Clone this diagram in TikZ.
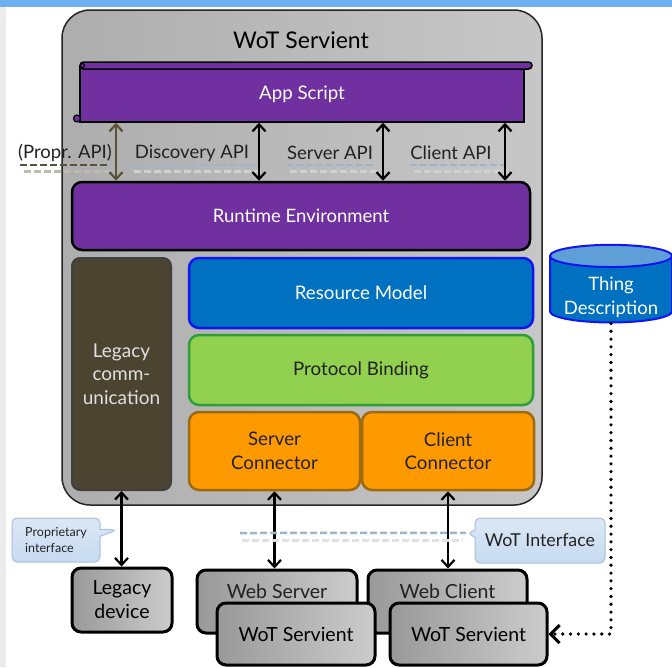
\documentclass[tikz,border=0pt]{standalone}
\usepackage{fontspec}
\setmainfont{Lato}
\usetikzlibrary{arrows.meta,shapes.geometric,shapes.callouts,calc}
\definecolor{purp}{HTML}{7030A0}
\definecolor{topblue}{HTML}{6EB0F0}
\definecolor{leftgray}{HTML}{EBEBEB}
\definecolor{olivebox}{HTML}{4B4431}
\definecolor{olivearrow}{HTML}{5A5238}
\definecolor{resblue}{HTML}{0070C0}
\definecolor{resborder}{HTML}{1414F0}
\definecolor{protgreen}{HTML}{92D050}
\definecolor{protborder}{HTML}{2E9E3A}
\definecolor{conorange}{HTML}{FF9900}
\definecolor{conborder}{HTML}{9C6A10}
\definecolor{calloutfill}{HTML}{C6DAF0}
\definecolor{calloutlight}{HTML}{DCE8F6}
\definecolor{calloutborder}{HTML}{A6C0DC}
\definecolor{dashblue}{HTML}{9DB4CC}
\definecolor{tdtop}{HTML}{5E9FD8}
\definecolor{textdark}{HTML}{222222}
\tikzset{
  fs/.style={font=\fontsize{#1pt}{1.25\dimexpr #1pt\relax}\selectfont},
  outerbox/.style={draw=black!85, line width=1.5pt, rounded corners=28pt,
    left color=black!32, right color=black!22},
  layer/.style={rounded corners=10pt, line width=2.5pt, align=center},
  graybox/.style={draw=black, line width=3pt, rounded corners=9pt,
    left color=black!40, right color=black!20, text=black, fs=19.5},
  arr/.style={line width=2.2pt, {Straight Barb[length=7pt,width=13pt]}-{Straight Barb[length=7pt,width=13pt]}},
  apilabel/.style={text=textdark, fs=18.5},
  apidash/.style={line width=2.5pt, dash pattern=on 7pt off 3pt, dashblue},
  apishadow/.style={line width=3pt, dash pattern=on 7pt off 3pt, black!18},
  callbox/.style={rectangle callout, draw=calloutborder, line width=1pt,
    rounded corners=5pt, top color=calloutlight, bottom color=calloutfill,
    text=textdark, align=left},
  dotline/.style={line width=3.6pt, dash pattern=on 0pt off 7.8pt, line cap=round,
    -{Straight Barb[length=9pt,width=18pt,line width=3pt,line cap=butt]}}
}
\begin{document}
\begin{tikzpicture}[x=1pt,y=-1pt]
\useasboundingbox (0,0) rectangle (672,667);
\fill[white] (0,0) rectangle (672,667);
\fill[topblue] (0,0) rectangle (672,7);
\fill[leftgray] (0,7) rectangle (6,667);

% outer servient
\node[outerbox, minimum width=480pt, minimum height=495pt] (servient) at (302,257.5) {};
\node[fs=23, text=black] (title) at (301,40) {WoT Servient};

% App script scroll
\node[draw=black, line width=1.5pt, fill=purp, minimum width=444pt, minimum height=56pt,
  text=white, fs=18.7] (app) at (302,94) {App Script};
\draw[fill=purp, line width=1.5pt, rounded corners=3.5pt] (80,62) rectangle (532,69);
\draw[fill=purp, line width=1.2pt] (77,118.5) circle (3.5pt);
\draw[line width=1pt] (82.5,65.5) circle (2pt);

% runtime
\node[layer, draw=black, fill=purp, text=white, fs=18.5, minimum width=458pt, minimum height=68pt]
  (rt) at (301,216) {Runtime Environment};

% API dashes
\draw[apishadow, olivearrow!40] (24,171) -- (112,171);
\draw[line width=2.5pt, dash pattern=on 7pt off 3pt, olivearrow] (20,165) -- (108,165);
\draw[apishadow] (134,171) -- (262,171);
\draw[apidash] (130,165) -- (258,165);
\draw[apishadow] (290,171) -- (380,171);
\draw[apidash] (286,165) -- (376,165);
\draw[apishadow] (414,171) -- (508,171);
\draw[apidash] (410,165) -- (504,165);

\node[apilabel] (lpropr) at (65,153) {(Propr. API)};
\node[apilabel] (ldisc) at (192,153) {Discovery API};
\node[apilabel] (lserv) at (330,153) {Server API};
\node[apilabel] (lclient) at (451,153) {Client API};

% API arrows
\draw[arr, olivearrow] (app.south -| 116,0) -- (rt.north -| 116,0);
\draw[arr] (app.south -| 259,0) -- (rt.north -| 259,0);
\draw[arr] (app.south -| 383,0) -- (rt.north -| 383,0);
\draw[arr] (app.south -| 505,0) -- (rt.north -| 505,0);

% legacy communication
\node[layer, rounded corners=8pt, line width=2pt, draw=black!75, fill=olivebox, text=black!12,
  font=\fontsize{19pt}{23.5pt}\selectfont, minimum width=99pt, minimum height=232pt]
  (lc) at (121.5,374) {Legacy\\comm-\\unication};

% resource model, protocol binding
\node[layer, draw=resborder, fill=resblue, text=white, fs=18.7, minimum width=344pt, minimum height=70pt]
  (rm) at (361,293) {Resource Model};
\node[layer, draw=protborder, fill=protgreen, text=textdark, fs=18.7, minimum width=344pt, minimum height=70pt]
  (pb) at (361,370) {Protocol Binding};

% connectors
\node[layer, draw=conborder, fill=conorange, text=textdark, font=\fontsize{18.7pt}{23.5pt}\selectfont,
  minimum width=171pt, minimum height=78pt] (sc) at (274.5,451) {Server\\Connector};
\node[layer, draw=conborder, fill=conorange, text=textdark, font=\fontsize{18.7pt}{23.5pt}\selectfont,
  minimum width=172pt, minimum height=78pt] (cc) at (448,451) {Client\\Connector};

% thing description
\node[cylinder, shape border rotate=90, aspect=0.22, draw=resborder, line width=2pt,
  cylinder uses custom fill, cylinder body fill=resblue, cylinder end fill=tdtop,
  minimum width=122pt, minimum height=77pt, align=center,
  font=\fontsize{18.5pt}{23.5pt}\selectfont] (td) at (611,291.5) {\phantom{Thing}\\\phantom{Description}};
\node[text=white, align=center, font=\fontsize{18.5pt}{23.5pt}\selectfont]
  (tdtext) at ([yshift=-6pt]td.center) {Thing\\Description};

% bottom boxes
\node[graybox, align=center, font=\fontsize{19.5pt}{24pt}\selectfont, minimum width=100pt, minimum height=64pt]
  (ld) at (122,600) {Legacy\\device};
\node[graybox, minimum width=160pt, minimum height=63pt,
  label={[fs=19.5, text=textdark, yshift=10.5pt]center:Web Server}] (wsrv) at (277,601.5) {};
\node[graybox, minimum width=159pt, minimum height=63pt,
  label={[fs=19.5, text=textdark, yshift=10.5pt]center:Web Client}] (wcli) at (447.5,601.5) {};
\node[graybox, minimum width=158pt, minimum height=62pt] (ws1) at (296,634) {WoT Servient};
\node[graybox, minimum width=157pt, minimum height=62pt] (ws2) at (468.5,634) {WoT Servient};

% arrows to devices
\draw[arr] (lc.south) -- (lc.south |- ld.north);
\draw[arr] (sc.south) -- (sc.south |- wsrv.north);
\draw[arr] (cc.south) -- (cc.south |- wcli.north);

% dotted connector from thing description
\draw[dotline] (td.south) |- (ws2.east);

% callouts
\node[callbox, fs=12.5, minimum width=88pt, minimum height=44pt,
  callout absolute pointer={(117,530)}] (propif) at (56,540) {Proprietary\\interface};
\node[callbox, fs=17.8, minimum width=130pt, minimum height=45pt,
  callout absolute pointer={(467,533)}] (wotif) at (540,540.5) {WoT Interface};
\coordinate (wotstart) at (240,533);
\draw[line width=3pt, dash pattern=on 7pt off 3pt, black!12] (242,540) -- (463,540);
\draw[line width=2.5pt, dash pattern=on 7pt off 3pt, dashblue] (wotstart) -- (wotif.pointer);
\end{tikzpicture}
\end{document}
